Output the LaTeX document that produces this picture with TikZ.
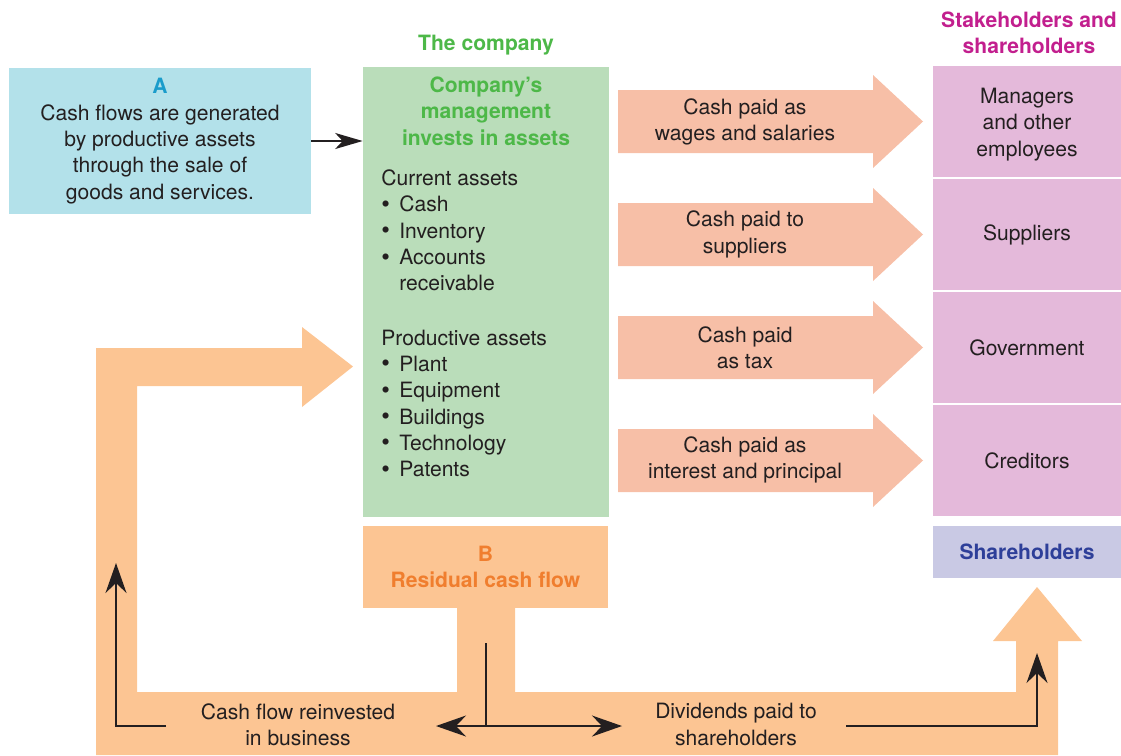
\documentclass[tikz,border=0pt]{standalone}
\usepackage{fontspec}
\setmainfont{TeX Gyre Heros}
\usetikzlibrary{positioning,arrows.meta}
\definecolor{ink}{HTML}{231F20}
\definecolor{sky}{HTML}{B3E1EA}
\definecolor{skytext}{HTML}{1A9CCB}
\definecolor{mint}{HTML}{BADDBA}
\definecolor{minttext}{HTML}{4DB848}
\definecolor{salmon}{HTML}{F7BFA7}
\definecolor{peach}{HTML}{FCC593}
\definecolor{peachtext}{HTML}{F07E2E}
\definecolor{orchid}{HTML}{E4B9DA}
\definecolor{orchidtext}{HTML}{C21F8E}
\definecolor{lilac}{HTML}{C9C9E4}
\definecolor{navy}{HTML}{2E3F99}
% block arrow from the company to one stakeholder row, centred at height #1
\newcommand{\payarrow}[1]{%
  \fill[salmon] (618,#1-31.5) -- (873,#1-31.5) -- (873,#1-46.5) -- (923,#1)
    -- (873,#1+46.5) -- (873,#1+31.5) -- (618,#1+31.5) -- cycle;}
\newcommand{\hd}{\fontsize{12}{15}\selectfont\bfseries}
\newcommand{\itm}{\makebox[0.36cm][l]{\raisebox{-0.3pt}{\fontsize{14}{15}\selectfont\textbullet}}}

\begin{document}
\begin{tikzpicture}[x=0.02cm,y=-0.02cm,font=\fontsize{12}{15}\selectfont,text=ink,
  cell/.style={fill=orchid,minimum width=3.76cm,minimum height=2.22cm,inner sep=0pt,align=center},
  flow/.style={line width=1.2pt,draw=ink},
  tip/.style={-{Stealth[length=0.6cm,width=0.42cm,inset=0.2cm]}}]
\useasboundingbox (0,0) rectangle (1121,755);

% residual cash flow: reinvested (left loop) and paid out (right)
\fill[peach] (96,755) -- (96,348) -- (302,348) -- (302,327) -- (353,366.5) -- (302,407)
  -- (302,386) -- (137,386) -- (137,692) -- (457,692) -- (457,600) -- (515,600)
  -- (515,692) -- (1016,692) -- (1016,641) -- (993,641) -- (1037,587) -- (1082,641)
  -- (1058,641) -- (1058,755) -- cycle;

\node[fill=sky,minimum width=6.04cm,minimum height=2.92cm,align=center] (srcA) at (160,141)
  {{\color{skytext}\bfseries A}\\Cash flows are generated\\by productive assets\\through the sale of\\goods and services.};

\node[fill=mint,minimum width=4.92cm,minimum height=9cm,inner sep=0pt] (company) at (486,292) {};
\node[text=minttext,font=\hd] (title) at (486,45) {The company};
\node[text=minttext,font=\hd,align=center] (mgmt) at (486,111)
  {Company’s\\management\\invests in assets};
\node[anchor=west,inner sep=0pt,align=left] (current) at (381,230.5)
  {Current assets\\\itm Cash\\\itm Inventory\\\itm Accounts\\\hphantom{\itm}receivable};
\node[anchor=west,inner sep=0pt,align=left] (productive) at (381,403.5)
  {Productive assets\\\itm Plant\\\itm Equipment\\\itm Buildings\\\itm Technology\\\itm Patents};

\draw[flow,-{Stealth[length=0.55cm,width=0.32cm,inset=0.15cm]}] (srcA.east) -- (srcA.east -| company.west);

\node[fill=peach,minimum width=4.9cm,minimum height=1.64cm,align=center,
  text=peachtext,font=\hd] (residual) at (485.5,567)
  {B\\Residual cash flow};

% payments out of the company
\payarrow{121.5}
\payarrow{234.5}
\payarrow{347.5}
\payarrow{460.5}
\node[align=center] (wages) at (745,122) {Cash paid as\\wages and salaries};
\node[align=center] (supply) at (745,234.5) {Cash paid to\\suppliers};
\node[align=center] (tax) at (745,347.5) {Cash paid\\as tax};
\node[align=center] (interest) at (745,460) {Cash paid as\\interest and principal};

\node[text=orchidtext,font=\hd,align=center] (stake) at (1029,33)
  {Stakeholders and\\shareholders};
\node[cell] (staff) at (1027,121.5) {};
\node[align=center] (stafftext) at (1027,124.5) {Managers\\and other\\employees};
\node[cell] (suppliers) at (1027,234.5) {Suppliers};
\node[cell] (govt) at (1027,347.5) {Government};
\node[cell] (creditors) at (1027,460.5) {Creditors};
\node[fill=lilac,minimum width=3.76cm,minimum height=1.04cm,inner sep=0pt,
  text=navy,font=\hd] (holders) at (1027,552) {Shareholders};

\node[align=center] (reinvest) at (298,724.5) {Cash flow reinvested\\in business};
\node[align=center] (dividends) at (736,724.5) {Dividends paid to\\shareholders};

\coordinate (split) at (486,726);
\coordinate (splittop) at (486,643);
\coordinate (backL) at (436,726);
\coordinate (outR) at (622,726);
\coordinate (loopstart) at (166,726);
\coordinate (loopcorner) at (116,726);
\coordinate (loopend) at (116,563);
\coordinate (divstart) at (846,726);
\coordinate (divcorner) at (1037,726);
\coordinate (divend) at (1037,653);

\draw[flow] (splittop) -- (split);
\draw[flow,{Stealth[length=0.6cm,width=0.42cm,inset=0.2cm]}-{Stealth[length=0.6cm,width=0.42cm,inset=0.2cm]}] (backL) -- (outR);
\draw[flow,tip] (loopstart) -- (loopcorner) -- (loopend);
\draw[flow,tip] (divstart) -- (divcorner) -- (divend);
\end{tikzpicture}
\end{document}
